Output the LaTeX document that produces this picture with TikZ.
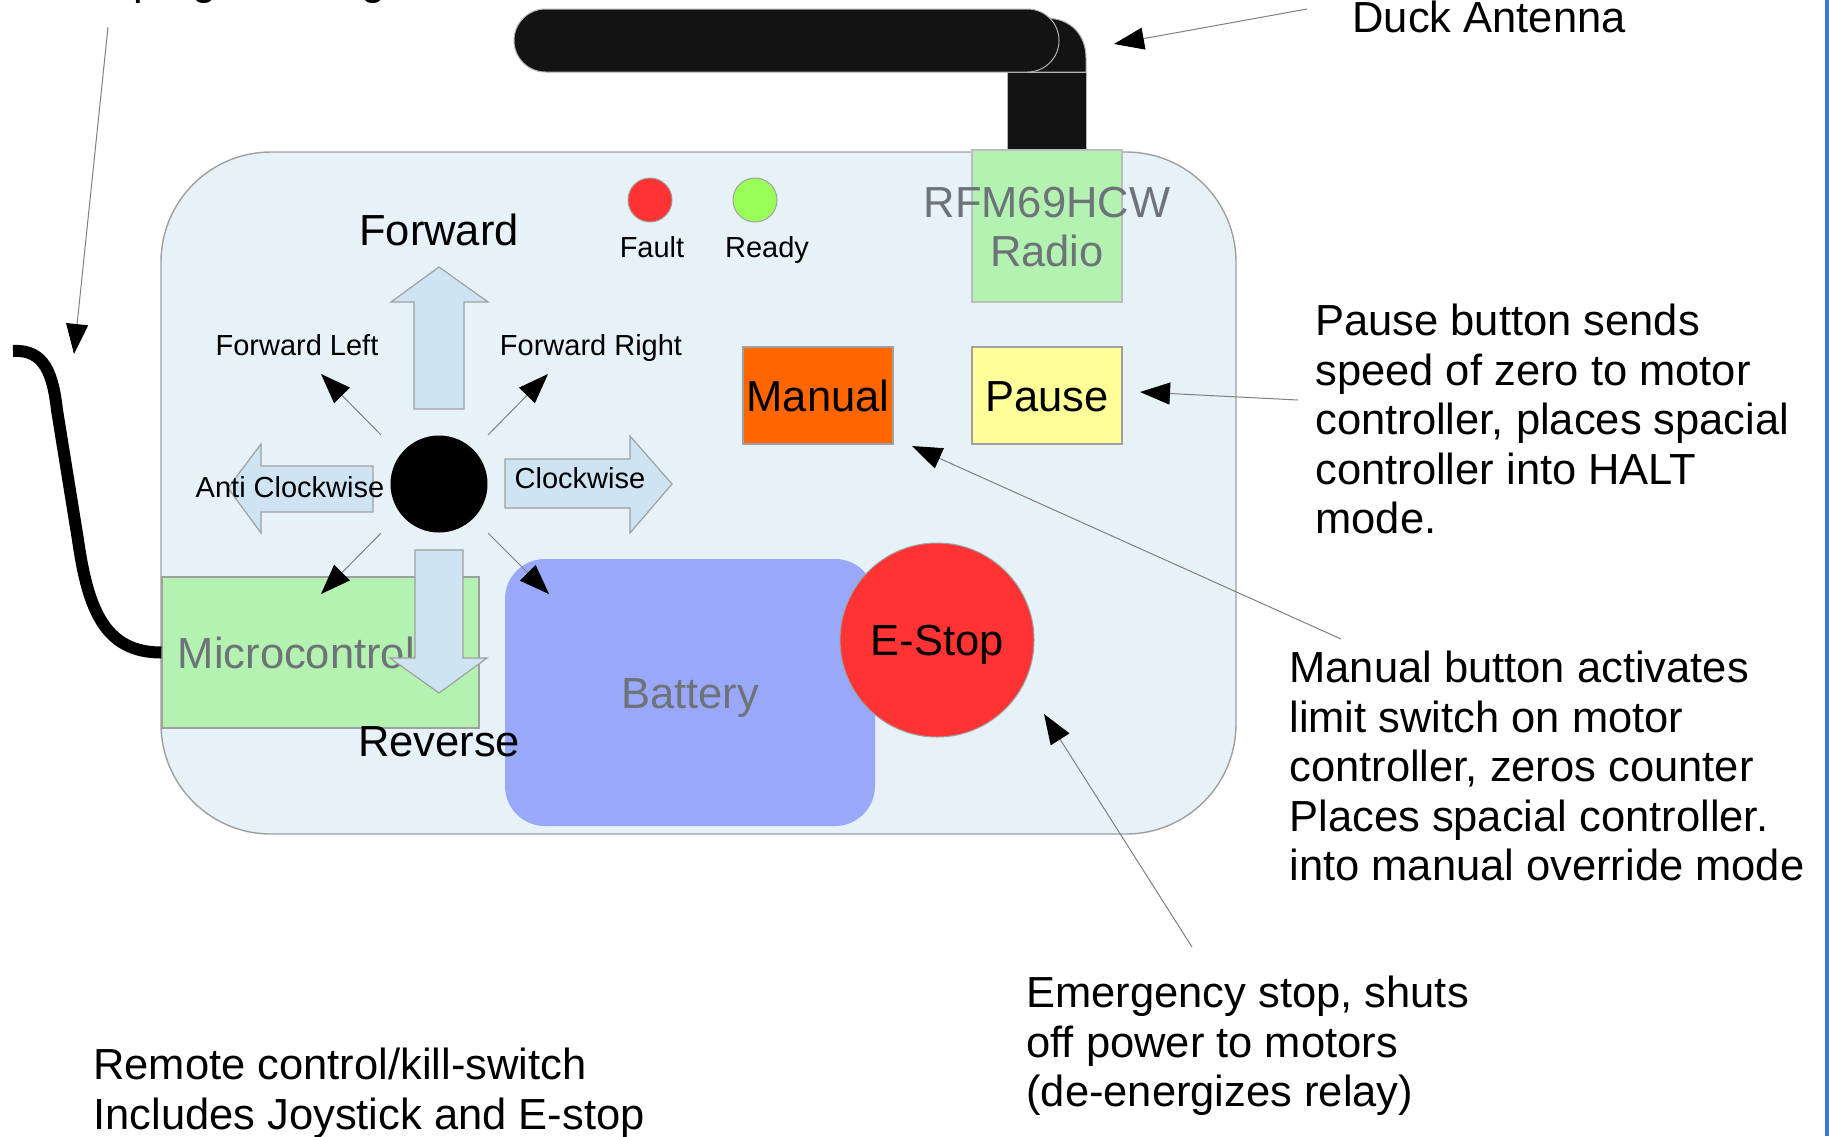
\documentclass[tikz,border=0pt]{standalone}
\usepackage{fontspec}
\setmainfont{Liberation Sans}
\usetikzlibrary{arrows.meta}
\definecolor{bodyblue}{HTML}{E6F1F8}
\definecolor{arrowblue}{HTML}{CFE4F3}
\definecolor{boxgreen}{HTML}{B3F2B0}
\definecolor{battblue}{HTML}{99A8F8}
\definecolor{stopred}{HTML}{FF3333}
\definecolor{readygreen}{HTML}{99FF59}
\definecolor{manorange}{HTML}{FF6600}
\definecolor{pauseyellow}{HTML}{FFFF99}
\definecolor{labelgray}{HTML}{6D7378}
\definecolor{edgegray}{HTML}{A0A0A0}
\definecolor{ptrgray}{HTML}{808080}
\definecolor{antblack}{HTML}{131313}
\definecolor{edgeblue}{HTML}{3C78D8}
\tikzset{
  big/.style={font=\fontsize{21.75pt}{24.75pt}\selectfont},
  small/.style={font=\fontsize{14.5pt}{17pt}\selectfont},
  lbl/.style={inner sep=0pt, anchor=base},
  note/.style={big, inner sep=0pt, align=left, anchor=north west},
  box/.style={draw=edgegray, line width=0.6pt, inner sep=0pt, big, text=labelgray, text height=15.6pt, text depth=0pt},
  led/.style={circle, draw=edgegray, line width=0.5pt, minimum size=22pt, inner sep=0pt},
  ptr/.style={draw=ptrgray, line width=0.5pt, arrows={-{Triangle[length=15pt,width=11pt,color=black]}}},
  blockarrow/.style={fill=arrowblue, draw=edgegray, line width=0.6pt},
  cable/.style={line width=6pt, draw=black},
  antpart/.style={fill=antblack, draw=edgegray!80, line width=0.5pt},
}
\begin{document}
\begin{tikzpicture}[x=0.5pt, y=-0.5pt]
\useasboundingbox (0,0) rectangle (1829,1136);
\fill[white] (0,0) rectangle (1829,1136);
\fill[edgeblue] (1825,0) rectangle (1829,1136);

% antenna
\filldraw[antpart] (1007,72) -- (1007,18) -- (1045,18) .. controls (1072,18) and (1086,36) .. (1086,58) -- (1086,72) -- cycle;
\filldraw[antpart] (1007,72) rectangle (1086,152);
\node[antpart, rounded corners=15.75pt, minimum width=272.5pt, minimum height=31.5pt, inner sep=0pt] (antenna) at (786.5,40.5) {};

% body
\node[draw=edgegray, fill=bodyblue, line width=0.7pt, rounded corners=55pt, minimum width=537.5pt, minimum height=341pt, inner sep=0pt] (body) at (698.5,493) {};

% radio
\node[box, fill=boxgreen, draw=edgegray!70, minimum width=75pt, minimum height=76pt] (radio) at (1047,226) {};
\node[big, text=labelgray, align=center, anchor=north, inner sep=0pt] (radiotext) at (1047,186.5) {RFM69HCW\\Radio};

% cable
\coordinate (cableend) at (13,351);
\node[box, fill=boxgreen, minimum width=158.5pt, minimum height=75.5pt] (micro) at (320.5,652.5) {Microcontroller};
\draw[cable] (cableend) .. controls (45,349) and (53,375) .. (57,410) -- (78,540) .. controls (88,610) and (105,652.5) .. (micro.west);

% battery and e-stop
\node[box, fill=battblue, draw=none, rounded corners=20pt, minimum width=185pt, minimum height=133.5pt] (battery) at (690,692.5) {Battery};
\node[circle, fill=stopred, draw=edgegray, line width=0.5pt, minimum size=97pt, inner sep=0pt, big, text height=15.6pt, text depth=0pt] (estop) at (937,640) {E-Stop};

% buttons
\node[box, fill=manorange, text=black, minimum width=75pt, minimum height=48.5pt] (manual) at (818,395.5) {Manual};
\node[box, fill=pauseyellow, text=black, minimum width=75pt, minimum height=48.5pt] (pause) at (1047,395.5) {Pause};

% LEDs
\node[led, fill=stopred] (fault) at (650,200) {};
\node[led, fill=readygreen] (ready) at (755,200) {};
\node[lbl, small] (faultlbl) at (652,257) {Fault};
\node[lbl, small] (readylbl) at (767,257) {Ready};

% joystick
\node[circle, fill=black, minimum size=48.5pt, inner sep=0pt] (joy) at (439,484) {};

% block arrows
\draw[blockarrow] (414,409) -- (414,302) -- (391,302) -- (439,267) -- (488,302) -- (464,302) -- (464,409) -- cycle;
\draw[blockarrow] (373,466) -- (261,466) -- (261,444) -- (228,488) -- (261,533) -- (261,512) -- (373,512) -- cycle;
\draw[blockarrow] (505,459) -- (630,459) -- (630,436) -- (672,484) -- (630,533) -- (630,508) -- (505,508) -- cycle;
\draw[blockarrow] (415,550) -- (463,550) -- (463,658) -- (487,658) -- (439,693) -- (390,658) -- (415,658) -- cycle;

\node[lbl, big] (fwd) at (439,245) {Forward};
\node[lbl, big] (rev) at (439,756) {Reverse};
\node[lbl, small] (fwdleft) at (297,355) {Forward Left};
\node[lbl, small] (fwdright) at (591,355) {Forward Right};
\node[lbl, small] (anti) at (290,497) {Anti Clockwise};
\node[lbl, small] (clock) at (580,488) {Clockwise};

% joystick diagonal arrows
\coordinate (flS) at (381,435); \coordinate (flE) at (321,374);
\coordinate (frS) at (488,435); \coordinate (frE) at (548,374);
\coordinate (blS) at (381,533); \coordinate (blE) at (321,594);
\coordinate (brS) at (488,533); \coordinate (brE) at (549,594);
\draw[ptr] (flS) -- (flE);
\draw[ptr] (frS) -- (frE);
\draw[ptr] (blS) -- (blE);
\draw[ptr] (brS) -- (brE);

% notes
\node[lbl, big, anchor=base west] (topnote) at (78,-6) {Unplug to charge};
\node[lbl, big, anchor=base west] (ducknote) at (1352,32) {Duck Antenna};
\node[note] (pausenote) at (1315,304) {Pause button sends\\speed of zero to motor\\controller, places spacial\\controller into HALT\\mode.};
\node[note] (manualnote) at (1289,651) {Manual button activates\\limit switch on motor\\controller, zeros counter\\Places spacial controller.\\into manual override mode};
\node[note] (estopnote) at (1026,976) {Emergency stop, shuts\\off power to motors\\(de-energizes relay)};
\node[note] (remotenote) at (93,1048) {Remote control/kill-switch\\Includes Joystick and E-stop};

% pointers
\coordinate (cpS) at (108,27); \coordinate (cpE) at (74,354);
\coordinate (duckS) at (1307,9); \coordinate (duckE) at (1114,44);
\coordinate (pauseS) at (1298,400); \coordinate (pauseE) at (1140,392);
\coordinate (manS) at (1341,639); \coordinate (manE) at (912,446);
\coordinate (esS) at (1192,947); \coordinate (esE) at (1044,714);
\draw[ptr] (cpS) -- (cpE);
\draw[ptr] (duckS) -- (duckE);
\draw[ptr] (pauseS) -- (pauseE);
\draw[ptr] (manS) -- (manE);
\draw[ptr] (esS) -- (esE);
\end{tikzpicture}
\end{document}
